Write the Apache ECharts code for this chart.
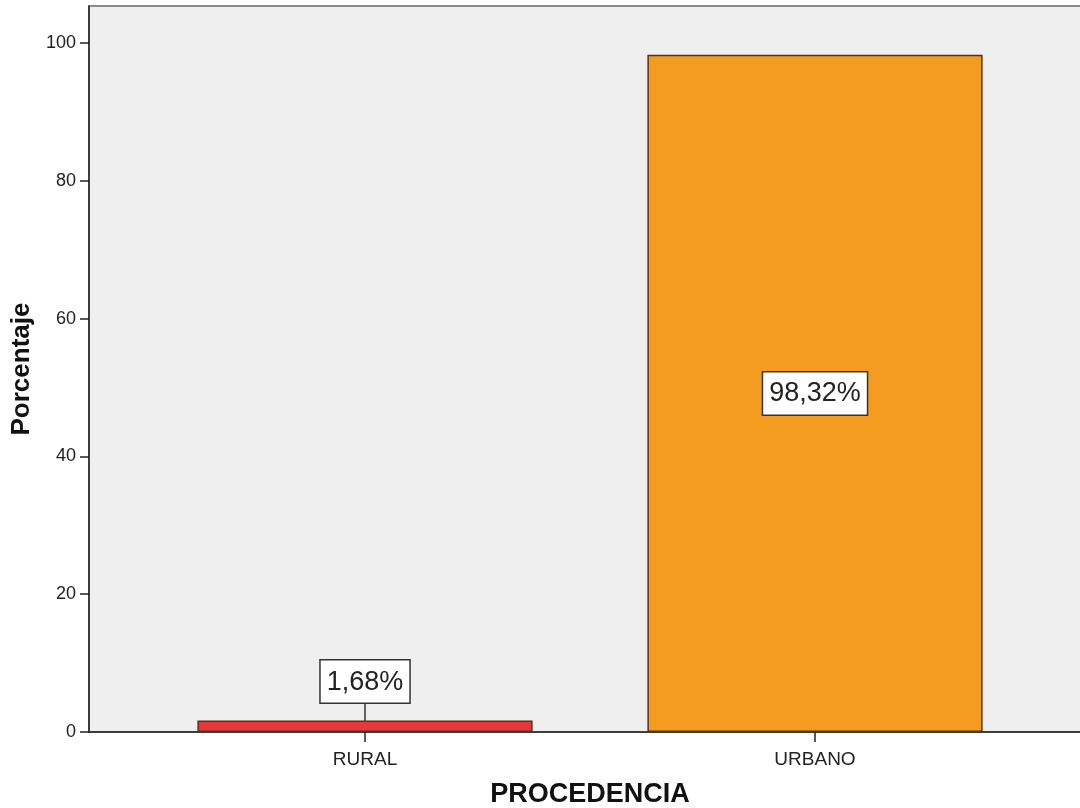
<!DOCTYPE html>
<html>
<head>
<meta charset="utf-8">
<script src="https://cdn.jsdelivr.net/npm/echarts@6/dist/echarts.min.js"></script>
<style>
  html, body { margin: 0; padding: 0; background: #fff; }
  #chart { width: 1080px; height: 808px; }
</style>
</head>
<body>
<div id="chart"></div>
<script>
// Procedencia: percentage of cases by place of origin
const categories = ['RURAL', 'URBANO'];
const percentages = [1.68, 98.32];
const yTicks = [0, 20, 40, 60, 80, 100];
const barColors = ['#e8363c', '#f39c1f'];

const Y_MAX = 105.4;
const FONT = '"Liberation Sans", Arial, sans-serif';

const fmt = v => v.toFixed(2).replace('.', ',') + '%';

const labelBox = {
  show: true,
  formatter: p => fmt(p.value),
  color: '#222',
  fontFamily: FONT,
  fontSize: 27,
  lineHeight: 30,
  backgroundColor: '#ffffff',
  borderColor: '#333',
  borderWidth: 1.5,
  padding: [7, 6, 5, 6]
};

const chart = echarts.init(document.getElementById('chart'));
chart.setOption({
  animation: false,
  textStyle: { fontFamily: FONT },
  grid: [
    // panel: grey background, value axis, baseline
    { left: 89, right: -3, top: 6, bottom: 76, show: true, backgroundColor: '#efefef',
      borderColor: '#8c8c8c', borderWidth: 2, outerBoundsMode: 'none' },
    // category placement for the bars
    { left: 140, right: 40, top: 6, bottom: 76, outerBoundsMode: 'none' }
  ],
  xAxis: [
    { gridIndex: 0, type: 'value', min: 0, max: 1, show: true,
      axisLine: { show: true, onZero: false, lineStyle: { color: '#222', width: 1.5 } },
      axisTick: { show: false }, axisLabel: { show: false }, splitLine: { show: false } },
    { gridIndex: 1, type: 'category', data: categories,
      axisLine: { show: false },
      axisTick: { show: true, alignWithLabel: true, length: 10, lineStyle: { color: '#222', width: 1.5 } },
      axisLabel: { color: '#222', fontSize: 19, margin: 18 },
      name: 'PROCEDENCIA', nameLocation: 'middle', nameGap: 49,
      nameTextStyle: { color: '#111', fontSize: 27, fontWeight: 'bold' } }
  ],
  yAxis: [
    { gridIndex: 0, type: 'value', min: 0, max: Y_MAX, interval: 20,
      axisLine: { show: true, lineStyle: { color: '#222', width: 1.5 } },
      axisTick: { show: true, length: 9, customValues: yTicks, lineStyle: { color: '#222', width: 1.5 } },
      axisLabel: { color: '#222', fontSize: 18, margin: 13, customValues: yTicks },
      splitLine: { show: false },
      name: 'Porcentaje', nameLocation: 'middle', nameGap: 52, nameRotate: 90,
      nameTextStyle: { color: '#111', fontSize: 26, fontWeight: 'bold' } },
    { gridIndex: 1, type: 'value', min: 0, max: Y_MAX, show: false, splitLine: { show: false } }
  ],
  series: [{
    type: 'bar',
    xAxisIndex: 1,
    yAxisIndex: 1,
    barWidth: '74.5%',
    data: percentages.map((v, i) => ({
      value: v,
      itemStyle: { color: barColors[i], borderColor: '#5a3018', borderWidth: 1.5 },
      label: i === 0
        ? Object.assign({}, labelBox, { position: 'top', distance: 0 })
        : Object.assign({}, labelBox, { position: 'inside' }),
      labelLine: i === 0 ? { show: true, lineStyle: { color: '#333', width: 1.5 } } : { show: false }
    })),
    labelLayout: p => p.dataIndex === 0 ? { dy: -18 } : {}
  }]
});
</script>
</body>
</html>
